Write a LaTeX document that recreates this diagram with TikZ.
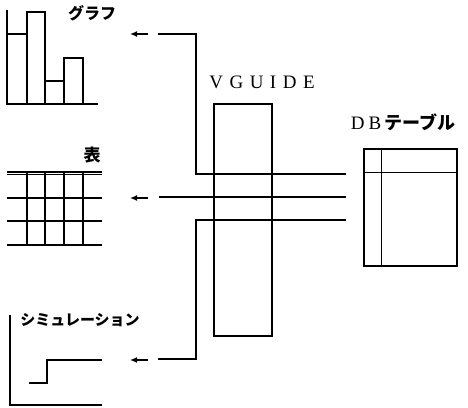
\documentclass[tikz,border=0pt]{standalone}
\usepackage{fontspec}
\newfontfamily\jp{Noto Sans CJK JP}
\newfontfamily\lat{Liberation Serif}
\usepackage{tikz}
\usetikzlibrary{arrows.meta}

\begin{document}
\begin{tikzpicture}[
    x=1pt, y=-1pt,
    line width=1.1pt,
    lbl/.style={inner sep=0pt, anchor=center},
    frame/.style={draw, line width=1.5pt, inner sep=0pt},
    arr/.style={-{Latex[length=7pt, width=6pt]}, line width=1.3pt}
  ]
    \useasboundingbox (0,0) rectangle (468,407);

    % graph
    \node[lbl, font=\jp\bfseries\fontsize{16}{16}\selectfont] (graphlbl) at (92,13) {グラフ};
    \draw (7,34) rectangle (27,104);
    \draw (27,12) rectangle (45,104);
    \draw (45,81) rectangle (64,104);
    \draw (64,58) rectangle (83,104);
    \draw[line width=1.3pt] (7,10) -- (7,104) -- (98,104);

    % table
    \node[lbl, font=\jp\bfseries\fontsize{17}{17}\selectfont] (tablelbl) at (92,155) {表};
    \draw (7,172) -- (102,172);
    \draw (7,174.5) -- (102,174.5);
    \draw (7,198) -- (102,198);
    \draw (7,221) -- (102,221);
    \draw[line width=1.3pt] (7,245) -- (102,245);
    \foreach \x in {27,45,64,83}
      \draw (\x,172) -- (\x,245);

    % simulation
    \node[lbl, font=\jp\bfseries\fontsize{15}{15}\selectfont] (simlbl) at (80,320) {シミュレーション};
    \draw[line width=1.3pt] (10,315) -- (10,405) -- (102,405);
    \draw (29,383) -- (47,383) -- (47,360) -- (102,360);

    % VGUIDE and DB table
    \node[frame, minimum width=58pt, minimum height=232pt] (vguide) at (243,220) {};
    \node[lbl, font=\lat\fontsize{19}{19}\selectfont] (vlbl) at (262,82)
      {V\hspace{6.5pt}G\hspace{6.5pt}U\hspace{6.5pt}I\hspace{6.5pt}D\hspace{6.5pt}E};

    \node[frame, minimum width=93pt, minimum height=117pt] (db) at (410.5,207.5) {};
    \draw (db.north west) ++(18,0) -- ++(0,117);
    \draw (db.north west) ++(0,24) -- ++(93,0);
    \node[lbl, font=\lat\fontsize{19}{19}\selectfont] (dblbl) at (403,122)
      {D\hspace{4pt}B{\jp\bfseries\fontsize{18}{18}\selectfont\,テーブル}};

    % connectors
    \coordinate (d1) at (346,174);
    \coordinate (d2) at (346,197);
    \coordinate (d3) at (346,220);
    \coordinate (g) at (158,34);
    \coordinate (t) at (159,197);
    \coordinate (s) at (158,359);
    \draw (d1) -| (196,34) -- (g);
    \draw (d2) -- (t);
    \draw (d3) -| (196,359) -- (s);

    \draw[arr] (148,34) -- (130,34);
    \draw[arr] (148,198) -- (130,198);
    \draw[arr] (148,360) -- (130,360);
  \end{tikzpicture}
\end{document}
